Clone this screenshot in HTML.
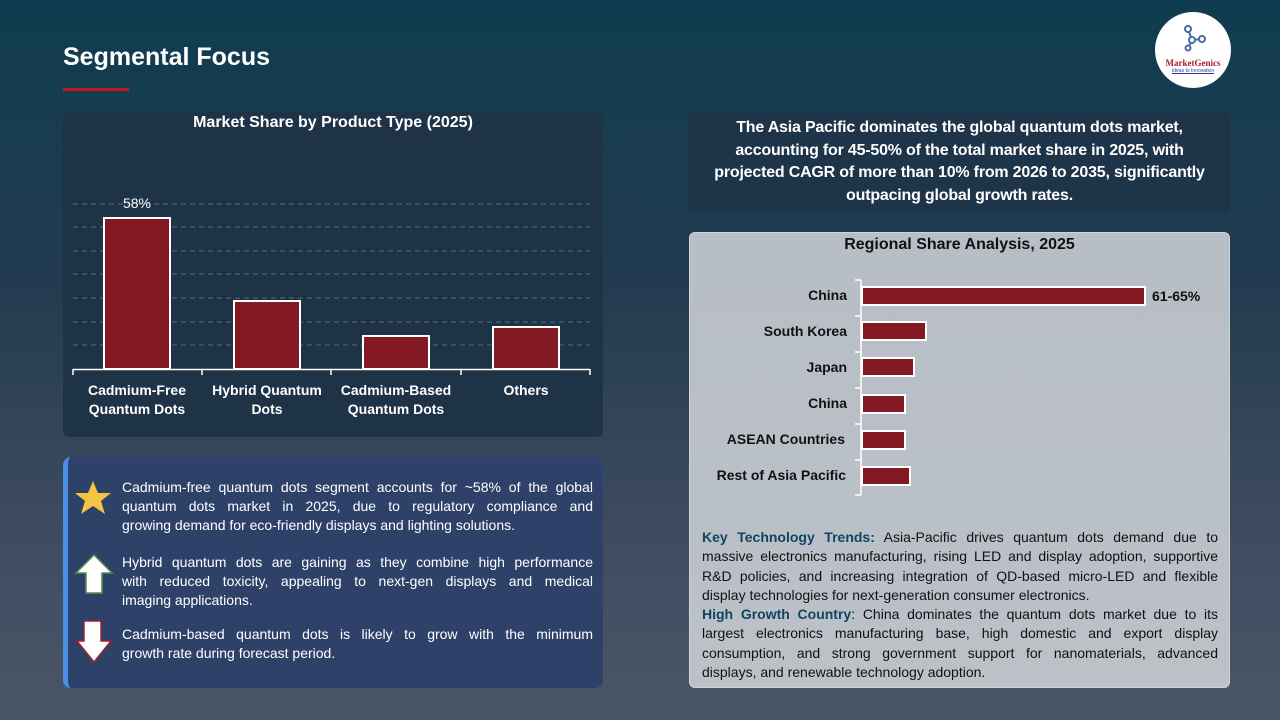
<!DOCTYPE html>
<html><head><meta charset="utf-8"><style>
*{margin:0;padding:0;box-sizing:border-box}
body{width:1280px;height:720px;overflow:hidden;position:relative;font-family:"Liberation Sans",sans-serif;background:linear-gradient(180deg,#0f3c50 0%,#233b50 40%,#3f4c60 75%,#4b5568 100%)}
.a{position:absolute}
.t{color:#fff;font-weight:bold}
.l{text-align:justify;text-align-last:justify;white-space:nowrap}
.l.e{text-align-last:left}
</style></head><body>
<div class="a t" style="left:63px;top:43px;font-size:25px">Segmental Focus</div>
<div class="a" style="left:63px;top:88px;width:66px;height:3px;background:#c0161e"></div>
<div class="a" style="left:1155px;top:12px;width:76px;height:76px;border-radius:50%;background:#fff;text-align:center">
<svg width="30" height="30" style="margin-top:12px" viewBox="0 0 30 30"><g stroke="#4a6aa8" stroke-width="2" fill="#fff"><line x1="10" y1="5" x2="14" y2="16"/><line x1="14" y1="16" x2="24" y2="15"/><line x1="14" y1="16" x2="10" y2="24"/><circle cx="10" cy="5" r="3"/><circle cx="14" cy="16" r="3"/><circle cx="24" cy="15" r="3"/><circle cx="10" cy="24" r="2.5"/></g></svg>
<div style="font-family:'Liberation Serif',serif;color:#a02030;font-weight:bold;font-size:9px;line-height:9px">MarketGenics</div>
<div style="font-size:5px;color:#2a3a90;text-decoration:underline">Ideas to Innovation</div></div>

<div class="a" style="left:63px;top:111px;width:540px;height:326px;background:#1f3346;border-radius:6px"></div>
<div class="a t" style="left:63px;top:114px;width:540px;text-align:center;font-size:16px">Market Share by Product Type (2025)</div>
<svg class="a" style="left:0;top:0" width="620" height="440">
<g stroke="#5a6b7c" stroke-dasharray="5,4" stroke-width="1"><line x1="73" x2="590" y1="204" y2="204"/><line x1="73" x2="590" y1="227" y2="227"/><line x1="73" x2="590" y1="251" y2="251"/><line x1="73" x2="590" y1="274" y2="274"/><line x1="73" x2="590" y1="298" y2="298"/><line x1="73" x2="590" y1="322" y2="322"/><line x1="73" x2="590" y1="345" y2="345"/></g>
<g fill="#821923" stroke="#fff" stroke-width="2"><rect x="104" y="218" width="66" height="151"/><rect x="234" y="301" width="66" height="68"/><rect x="363" y="336" width="66" height="33"/><rect x="493" y="327" width="66" height="42"/></g>
<g stroke="#fff" stroke-width="1.5"><line x1="73" x2="590" y1="369.5" y2="369.5"/><line x1="73" x2="73" y1="369" y2="375"/><line x1="202" x2="202" y1="369" y2="375"/><line x1="331" x2="331" y1="369" y2="375"/><line x1="461" x2="461" y1="369" y2="375"/><line x1="590" x2="590" y1="369" y2="375"/></g>
<text x="137" y="208" fill="#fff" font-size="14" text-anchor="middle" font-family="Liberation Sans">58%</text>
<g fill="#fff" font-size="14" font-weight="bold" text-anchor="middle" font-family="Liberation Sans"><text x="137" y="395">Cadmium-Free</text><text x="137" y="414">Quantum Dots</text><text x="267" y="395">Hybrid Quantum</text><text x="267" y="414">Dots</text><text x="396" y="395">Cadmium-Based</text><text x="396" y="414">Quantum Dots</text><text x="526" y="395">Others</text></g>
</svg>

<div class="a" style="left:63px;top:457px;width:540px;height:231px;background:#2e4168;border-radius:8px;border-left:5px solid #4a8fe6"></div>
<svg class="a" style="left:74px;top:478px" width="42" height="190">
<polygon points="19,3 24,15 37,15 27,23 31,36 19,28 7,36 11,23 1,15 14,15" fill="#f5c342"/>
<polygon points="20,77 38,95 28,95 28,115 12,115 12,95 2,95" fill="#fff" stroke="#5a8a50" stroke-width="1.5"/>
<polygon points="10,143 27,143 27,163 37,163 20,184 3,163 10,163" fill="#fff" stroke="#a02030" stroke-width="1.5"/>
</svg>
<div class="a" style="left:122px;top:478px;width:471px;font-size:14px;line-height:19px;color:#fff">
<div class="l">Cadmium-free quantum dots segment accounts for ~58% of the global</div>
<div class="l">quantum dots market in 2025, due to regulatory compliance and</div>
<div class="l e">growing demand for eco-friendly displays and lighting solutions.</div>
<div style="height:18px"></div>
<div class="l">Hybrid quantum dots are gaining as they combine high performance</div>
<div class="l">with reduced toxicity, appealing to next-gen displays and medical</div>
<div class="l e">imaging applications.</div>
<div style="height:15px"></div>
<div class="l">Cadmium-based quantum dots is likely to grow with the minimum</div>
<div class="l e">growth rate during forecast period.</div></div>

<div class="a t" style="left:689px;top:111px;width:541px;height:102px;background:#1e3448;border-radius:4px;font-size:16px;line-height:22.5px;text-align:center;padding-top:6px;white-space:nowrap;letter-spacing:-0.2px">The Asia Pacific dominates the global quantum dots market,<br>accounting for 45-50% of the total market share in 2025, with<br>projected CAGR of more than 10% from 2026 to 2035, significantly<br>outpacing global growth rates.</div>

<div class="a" style="left:689px;top:232px;width:541px;height:456px;background:linear-gradient(180deg,#b8bec6,#bcc1c8);border-radius:6px;border:1px solid #d0d4d9"></div>
<div class="a" style="left:689px;top:236px;width:541px;text-align:center;font-size:16px;font-weight:bold;color:#111">Regional Share Analysis, 2025</div>
<svg class="a" style="left:689px;top:232px" width="541" height="270">
<g stroke="#fff" stroke-width="1.5"><line x1="172" x2="172" y1="48" y2="263"/><line x1="166" x2="172" y1="48" y2="48"/><line x1="166" x2="172" y1="84" y2="84"/><line x1="166" x2="172" y1="120" y2="120"/><line x1="166" x2="172" y1="156" y2="156"/><line x1="166" x2="172" y1="192" y2="192"/><line x1="166" x2="172" y1="228" y2="228"/><line x1="166" x2="172" y1="263" y2="263"/></g>
<g fill="#821923" stroke="#fff" stroke-width="2"><rect x="173" y="55" width="283" height="18"/><rect x="173" y="90" width="64" height="18"/><rect x="173" y="126" width="52" height="18"/><rect x="173" y="163" width="43" height="18"/><rect x="173" y="199" width="43" height="18"/><rect x="173" y="235" width="48" height="18"/></g>
<g font-family="Liberation Sans" font-size="14" font-weight="bold" fill="#111" text-anchor="end"><text x="158" y="68">China</text><text x="158" y="104">South Korea</text><text x="158" y="140">Japan</text><text x="158" y="176">China</text><text x="156" y="212">ASEAN Countries</text><text x="157" y="248">Rest of Asia Pacific</text></g>
<text x="463" y="69" font-family="Liberation Sans" font-size="14" font-weight="bold" fill="#111">61-65%</text>
</svg>
<div class="a" style="left:702px;top:528px;width:516px;font-size:14px;line-height:19.3px;color:#111;text-align:justify;text-align-last:left">
<b style="color:#0f4560">Key Technology Trends:</b> Asia-Pacific drives quantum dots demand due to massive electronics manufacturing, rising LED and display adoption, supportive R&amp;D policies, and increasing integration of QD-based micro-LED and flexible display technologies for next-generation consumer electronics.<br>
<b style="color:#0f4560">High Growth Country</b>: China dominates the quantum dots market due to its largest electronics manufacturing base, high domestic and export display consumption, and strong government support for nanomaterials, advanced displays, and renewable technology adoption.</div>
</body></html>
